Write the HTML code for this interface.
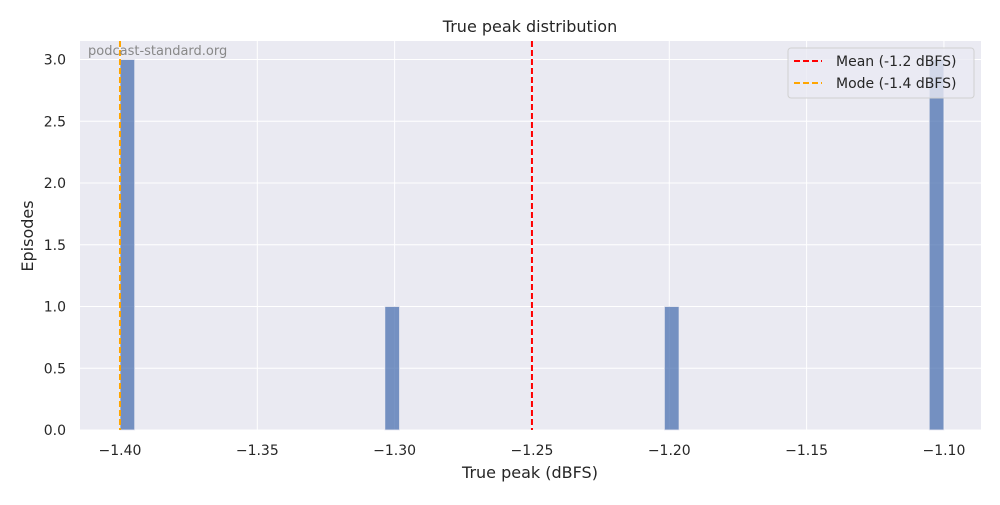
<!DOCTYPE html>
<html><head><meta charset="utf-8"><style>
body{margin:0;background:#fff;font-family:"Liberation Sans","DejaVu Sans",sans-serif}
</style></head><body>
<svg width="1000" height="500" xmlns="http://www.w3.org/2000/svg" font-family="DejaVu Sans, Liberation Sans, sans-serif">
<rect x="80" y="41" width="901" height="389" fill="#eaeaf2"/>
<g id="grid"></g>
<g id="bars"></g>
<g id="ticks" font-size="14" fill="#262626"></g>
<g id="lines"></g>
<text x="88" y="55" font-size="13" fill="#888">podcast-standard.org</text>
<text x="530" y="32" font-size="16" text-anchor="middle" fill="#262626">True peak distribution</text>
<text x="530" y="478" font-size="16" text-anchor="middle" fill="#262626">True peak (dBFS)</text>
<text transform="translate(33,236) rotate(-90)" font-size="16" text-anchor="middle" fill="#262626">Episodes</text>
<g>
<rect x="788" y="48" width="186" height="50" rx="3" fill="#eaeaf2" fill-opacity="0.8" stroke="#d0d0d0"/>
<line x1="794" y1="61" x2="822" y2="61" stroke="#ff0000" stroke-width="2" stroke-dasharray="6,3"/>
<text x="836" y="66" font-size="14" fill="#262626">Mean (-1.2 dBFS)</text>
<line x1="794" y1="83" x2="822" y2="83" stroke="#ffa500" stroke-width="2" stroke-dasharray="6,3"/>
<text x="836" y="88" font-size="14" fill="#262626">Mode (-1.4 dBFS)</text>
</g>
</svg>
<script>
const values=[-1.4,-1.4,-1.4,-1.3,-1.2,-1.1,-1.1,-1.1];
const xTicks=[-1.40,-1.35,-1.30,-1.25,-1.20,-1.15,-1.10];
const yTicks=[0,0.5,1.0,1.5,2.0,2.5,3.0];
const meanVal=-1.25, modeVal=-1.4;
const nBins=56;
const ns="http://www.w3.org/2000/svg";
const X0=-1.41456,X1=-1.0865,PL=80,PR=981,PT=41,PB=430,YMAX=3.15;
const sx=v=>PL+(v-X0)/(X1-X0)*(PR-PL);
const sy=v=>PB-v/YMAX*(PB-PT);
function mk(t,a,p){const e=document.createElementNS(ns,t);for(const k in a)e.setAttribute(k,a[k]);document.getElementById(p).appendChild(e);return e;}
xTicks.forEach(t=>{
 const g=mk('line',{x1:sx(t),x2:sx(t),y1:PT,y2:PB,stroke:'#fff','stroke-width':1},'grid');
 
 
 const l=mk('text',{x:sx(t),y:455,'text-anchor':'middle'},'ticks');l.textContent='\u2212'+Math.abs(t).toFixed(2);
 
 
});
yTicks.forEach(t=>{
 const g=mk('line',{x1:PL,x2:PR,y1:sy(t),y2:sy(t),stroke:'#fff','stroke-width':1},'grid');
 
 
 const l=mk('text',{x:66,y:sy(t)+5,'text-anchor':'end'},'ticks');l.textContent=t.toFixed(1);
 
 
});
const lo=Math.min(...values),hi=Math.max(...values),w=(hi-lo)/nBins;
const counts=new Array(nBins).fill(0);
values.forEach(v=>{let i=Math.floor((v-lo)/w+1e-9);if(i>=nBins)i=nBins-1;counts[i]++;});
counts.forEach((c,i)=>{if(!c)return;
 const a=sx(lo+i*w),b=sx(lo+(i+1)*w);
 const r=mk('rect',{x:a,y:sy(c),width:b-a,height:sy(0)-sy(c),fill:'#4c72b0','fill-opacity':0.75,stroke:'#eaeaf2','stroke-width':0.8},'bars');
 
 
});
const m=mk('line',{x1:sx(meanVal),x2:sx(meanVal),y1:PT,y2:PB,stroke:'#ff0000','stroke-width':2,'stroke-dasharray':'6,3'},'lines');


const o=mk('line',{x1:sx(modeVal),x2:sx(modeVal),y1:PT,y2:PB,stroke:'#ffa500','stroke-width':2,'stroke-dasharray':'6,3'},'lines');


</script>
</body></html>
